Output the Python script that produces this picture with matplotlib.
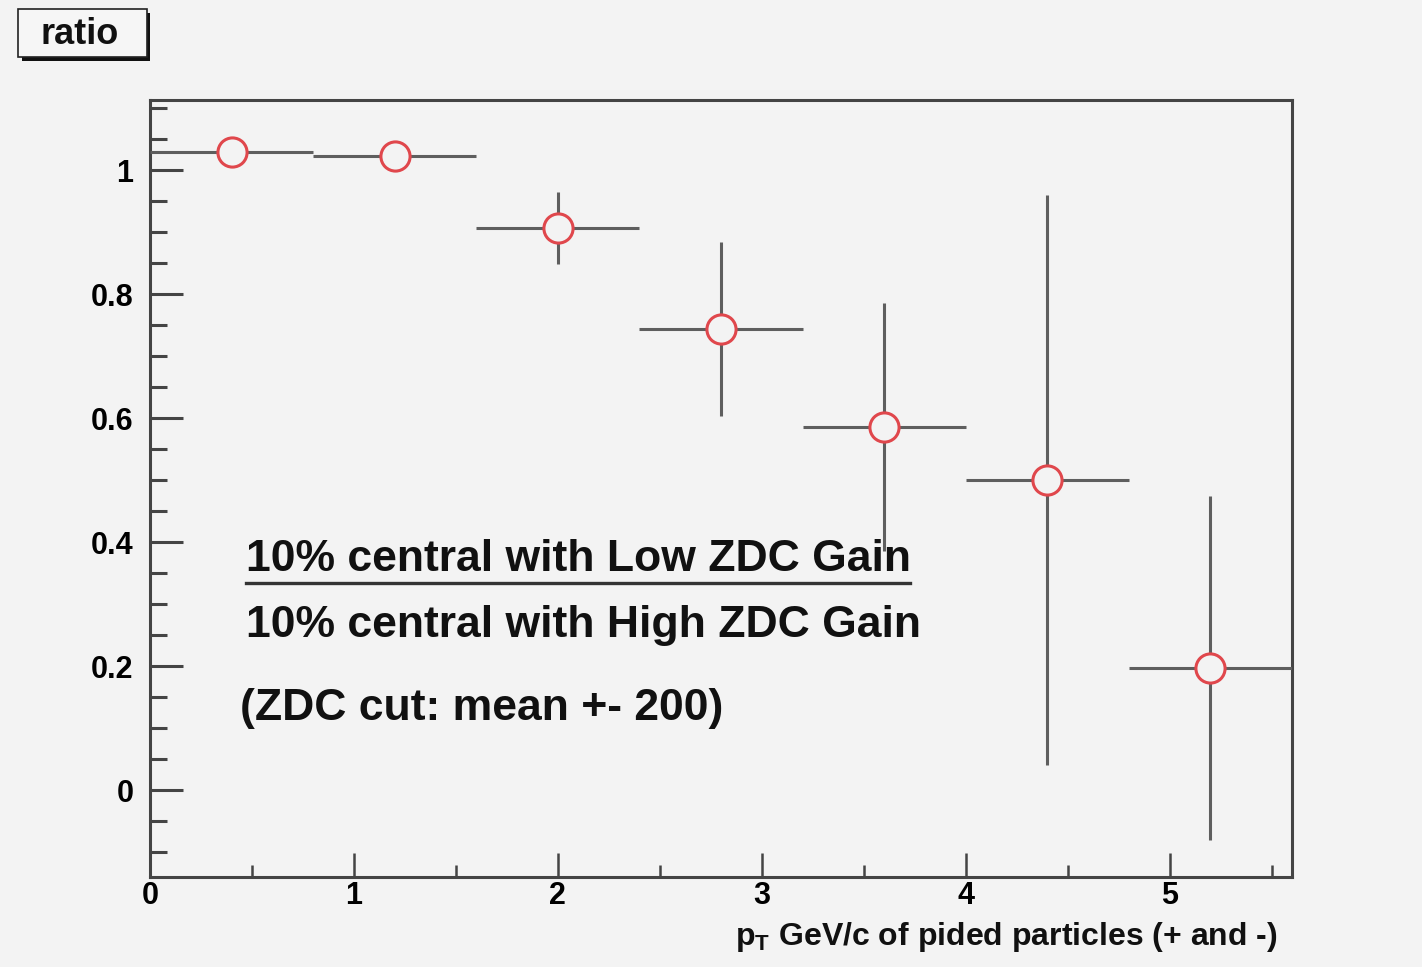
import matplotlib
matplotlib.use("Agg")
import matplotlib.pyplot as plt
from matplotlib.patches import Rectangle
from matplotlib.ticker import MultipleLocator

# ---- data ----
pt_centers = [0.4, 1.2, 2.0, 2.8, 3.6, 4.4, 5.2]
pt_halfwidth = [0.4, 0.4, 0.4, 0.4, 0.4, 0.4, 0.4]
ratio = [1.029, 1.023, 0.906, 0.744, 0.585, 0.500, 0.197]
ratio_err = [0.012, 0.012, 0.058, 0.140, 0.200, 0.460, 0.277]

x_ticks = [0, 1, 2, 3, 4, 5]
y_ticks = [0, 0.2, 0.4, 0.6, 0.8, 1.0]
y_tick_labels = ["0", "0.2", "0.4", "0.6", "0.8", "1"]

BG = "#f3f3f3"
FONT = "Liberation Sans"

W, H = 1422, 967
fig = plt.figure(figsize=(W / 100, H / 100), dpi=100, facecolor=BG)
ax = fig.add_axes([150 / W, 1 - 877 / H, (1292 - 150) / W, (877 - 100) / H])
ax.set_facecolor(BG)

ax.errorbar(pt_centers, ratio, xerr=pt_halfwidth, yerr=ratio_err,
            fmt="o", ms=21, mfc=BG, mec="#e0474c", mew=2.2,
            ecolor="#5e5e5e", elinewidth=2.2, capsize=0, zorder=3)

ax.set_xlim(0, 5.6)
ax.set_ylim(-0.14, 1.113)

ax.set_xticks(x_ticks)
ax.set_xticklabels([str(t) for t in x_ticks])
ax.set_yticks(y_ticks)
ax.set_yticklabels(y_tick_labels)
ax.xaxis.set_minor_locator(MultipleLocator(0.5))
ax.yaxis.set_minor_locator(MultipleLocator(0.05))

ax.tick_params(axis="y", which="major", direction="in", length=24, width=2.2,
               color="#444444", pad=12, labelsize=22)
ax.tick_params(axis="y", which="minor", direction="in", length=12, width=2.2,
               color="#444444")
ax.tick_params(axis="x", which="major", direction="in", length=17, width=1.8,
               color="#444444", pad=3, labelsize=22)
ax.tick_params(axis="x", which="minor", direction="in", length=9, width=1.8,
               color="#444444")
for lab in ax.get_xticklabels() + ax.get_yticklabels():
    lab.set_fontfamily(FONT)
    lab.set_fontweight("bold")

for s in ax.spines.values():
    s.set_color("#444444")
    s.set_linewidth(2.2)


def fx(px):
    return px / W


def fy(py):
    return 1 - py / H


# x axis title
fig.text(fx(1278), fy(945), r"p$_\mathregular{T}$ GeV/c of pided particles (+ and -)",
         fontsize=23, fontweight="bold", fontfamily=FONT, ha="right", va="baseline",
         color="#111111")

# annotations
fig.text(fx(246), fy(571), "10% central with Low ZDC Gain", fontsize=32,
         fontweight="bold", fontfamily=FONT, va="baseline", ha="left", color="#111111")
fig.add_artist(plt.Line2D([fx(246), fx(910)], [fy(583), fy(583)],
                          color="#333333", lw=2.4, transform=fig.transFigure))
fig.text(fx(246), fy(637), "10% central with High ZDC Gain", fontsize=32,
         fontweight="bold", fontfamily=FONT, va="baseline", ha="left", color="#111111")
fig.text(fx(240), fy(720), "(ZDC cut: mean +- 200)", fontsize=32,
         fontweight="bold", fontfamily=FONT, va="baseline", ha="left", color="#111111")

# title box with shadow
fig.add_artist(Rectangle((fx(22), fy(61)), (150 - 22) / W, (61 - 13) / H,
                         transform=fig.transFigure, facecolor="#111111",
                         edgecolor="none", zorder=5))
fig.add_artist(Rectangle((fx(18), fy(57)), (147 - 18) / W, (57 - 9) / H,
                         transform=fig.transFigure, facecolor="#f6f6f6",
                         edgecolor="#222222", lw=1.2, zorder=6))
fig.text(fx(80), fy(34), "ratio", fontsize=26, fontweight="bold",
         fontfamily=FONT, ha="center", va="center", zorder=7, color="#111111")

fig.savefig("out.png", dpi=100, facecolor=BG)
